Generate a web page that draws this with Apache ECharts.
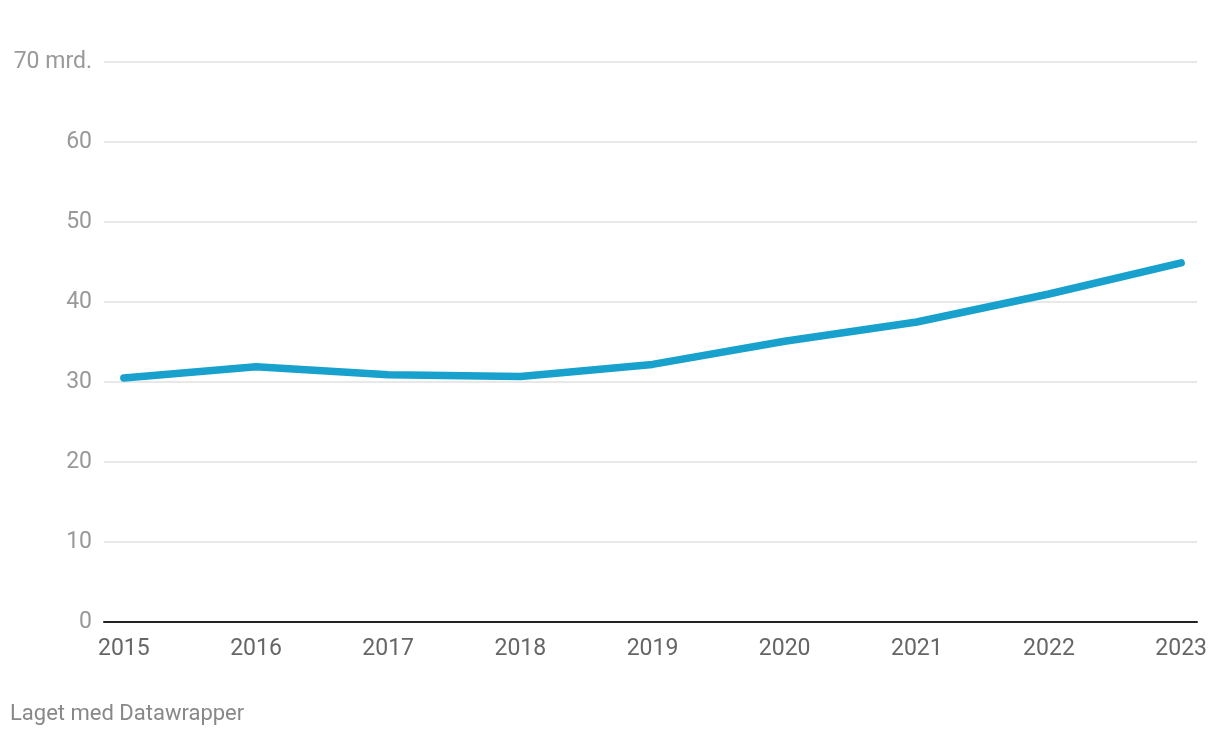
<!DOCTYPE html>
<html>
<head>
<meta charset="utf-8">
<script src="https://cdn.jsdelivr.net/npm/echarts@6/dist/echarts.min.js"></script>
<style>
  html, body { margin: 0; padding: 0; background: #fff; }
  #chart { width: 1220px; height: 738px; }
</style>
</head>
<body>
<div id="chart"></div>
<script>
// data (milliarder)
let years = [2015, 2016, 2017, 2018, 2019, 2020, 2021, 2022, 2023];
let values = [30.5, 31.9, 30.9, 30.7, 32.2, 35.1, 37.5, 41.0, 44.9];
let yTicks = [0, 10, 20, 30, 40, 50, 60, 70];

let chart = echarts.init(document.getElementById('chart'), null, { renderer: 'canvas' });

let option = {
  animation: false,
  backgroundColor: '#fff',
  textStyle: { fontFamily: 'Roboto' },
  grid: { left: 104, right: 23, top: 62, bottom: 116 },
  graphic: [{
    type: 'text',
    left: 10,
    top: 703,
    style: { text: 'Laget med Datawrapper', fill: '#888', fontSize: 22, fontFamily: 'Roboto' }
  }],
  xAxis: {
    type: 'value',
    min: 2014.85,
    max: 2023.12,
    splitLine: { show: false },
    axisLine: { show: true, onZero: false, lineStyle: { color: '#222', width: 2 } },
    axisTick: { show: false },
    axisLabel: {
      customValues: years,
      color: '#666',
      fontSize: 23,
      margin: 16,
      formatter: v => String(v)
    }
  },
  yAxis: {
    type: 'value',
    min: 0,
    max: 70,
    interval: 10,
    axisLine: { show: false },
    axisTick: { show: false },
    splitLine: { lineStyle: { color: '#e0e0e0', width: 1.5 } },
    axisLabel: {
      color: '#999',
      fontSize: 23,
      margin: 12,
      padding: [4, 0, 0, 0],
      formatter: v => v === yTicks[yTicks.length - 1] ? v + ' mrd.' : String(v)
    }
  },
  series: [{
    type: 'line',
    data: years.map((y, i) => [y, values[i]]),
    showSymbol: false,
    lineStyle: { color: '#18a1cd', width: 7.5, cap: 'round', join: 'round' },
    itemStyle: { color: '#18a1cd' }
  }]
};
chart.setOption(option);
</script>
</body>
</html>
